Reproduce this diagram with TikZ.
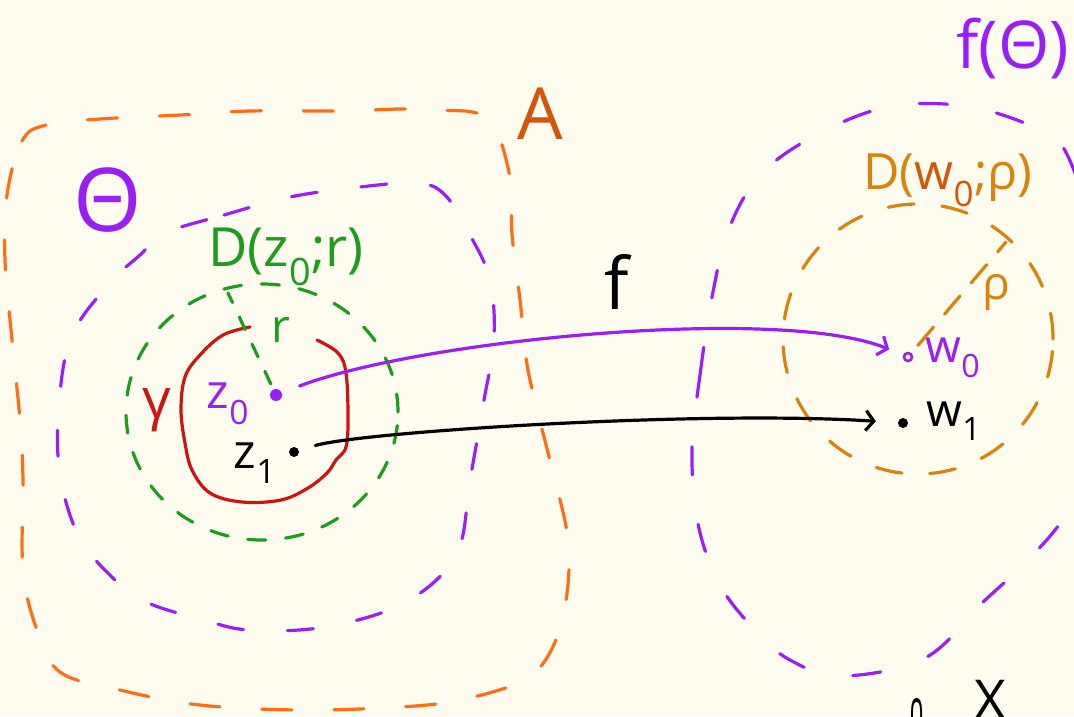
\documentclass[tikz,border=0pt]{standalone}
\usepackage{fontspec}
\setmainfont{Open Sans}
\newfontfamily\symfont{DejaVu Sans}
\usepackage{xcolor}
\usepackage{graphicx}
\usetikzlibrary{arrows.meta}
\definecolor{inkCream}{HTML}{FEFCEE}
\definecolor{inkOrange}{HTML}{FF6E14}
\definecolor{inkRust}{HTML}{D4560A}
\definecolor{inkPurple}{HTML}{9A1EF5}
\definecolor{inkGreen}{HTML}{1E9C1E}
\definecolor{inkRed}{HTML}{CC1414}
\definecolor{inkAmber}{HTML}{D9820C}
\newcommand{\hand}[1]{\fontsize{#1}{#1}\selectfont}
\newcommand{\low}[1]{\textsubscript{#1}}

\tikzset{
  pen/.style={line width=3.2pt,line cap=round,line join=round},
  lbl/.style={inner sep=0pt,anchor=center},
  dot/.style={circle,fill,inner sep=0pt,minimum size=#1},
  dot/.default=10pt,
  ring/.style={circle,draw,line width=2.6pt,inner sep=0pt,minimum size=8pt},
  barb/.style={-{Straight Barb[length=8pt,width=20pt]}},
}

\begin{document}
\begin{tikzpicture}[x=1pt,y=-1pt]
\useasboundingbox (0,0) rectangle (1074,716);
\fill[inkCream] (0,0) rectangle (1074,716);
\clip (0,0) rectangle (1074,716);

% the set A
\draw[pen,inkOrange,dash pattern=on 30pt off 42pt] plot[smooth cycle,tension=0.6] coordinates {
  (7,195) (22,141) (46,125) (100,119) (180,115) (250,111) (340,111) (400,109)
  (438,110) (488,119) (510,177) (512,234) (520,300) (528,370) (550,461) (568,540)
  (565,607) (548,656) (520,682) (460,700) (400,707) (300,710) (200,705) (120,690)
  (60,672) (37,630) (23,570) (23,480) (20,420) (12,340) (5,260)};
\node[lbl,text=inkRust,font=\hand{72}] (labA) at (540,114) {A};

% the open set Theta
\draw[pen,inkPurple,dash pattern=on 26pt off 44pt] plot[smooth cycle,tension=0.6] coordinates {
  (165,233) (224,215) (290,197) (360,187) (417,183) (445,195) (470,235) (490,280)
  (494,340) (484,400) (470,480) (456,555) (404,603) (325,627) (250,630) (204,620)
  (142,600) (100,565) (77,533) (61,480) (58,420) (70,340) (108,285) (140,255)};
\node[lbl,text=inkPurple,font=\hand{88}] (labTheta) at (108,200) {Θ};

% the disc D(z0;r)
\draw[pen,inkGreen,dash pattern=on 18pt off 20pt] (262,412) ellipse [x radius=136pt,y radius=128pt];
\node[lbl,text=inkGreen,font=\hand{54}] (labDz) at (286,257) {D(z\low{0};r)};

% the curve gamma
\draw[pen,inkRed] plot[smooth,tension=0.6] coordinates {
  (317,340) (338,353) (346,373) (348,417) (346,447) (336,460) (327,473) (308,488)
  (281,500) (242,502) (210,493) (192,470) (185,443) (181,410) (185,377) (200,355)
  (223,335) (250,327)};
\node[lbl,text=inkRed,font=\hand{56}] (labGamma) at (157,410) {γ};

% points in Theta
\node[dot=12pt,inkPurple] (z0) at (276,395) {};
\node[dot] (z1) at (294,452) {};
\node[lbl,text=inkPurple,font=\hand{48}] (labz0) at (228,404) {z\low{0}};
\node[lbl,font=\hand{48}] (labz1) at (255,463) {z\low{1}};

\coordinate (rEnd) at (228,293);
\draw[pen,inkGreen,dash pattern=on 14pt off 16pt,shorten <=6pt] (z0) -- (rEnd);
\node[lbl,text=inkGreen,font=\hand{46}] (labr) at (281,330) {r};

% the image f(Theta)
\draw[pen,inkPurple,dash pattern=on 28pt off 50pt] plot[smooth cycle,tension=0.6] coordinates {
  (692,450) (700,375) (712,297) (730,226) (765,170) (828,129) (893,106) (965,106)
  (1027,124) (1063,147) (1090,230) (1097,350) (1087,450) (1067,512) (1028,560)
  (982,603) (925,658) (842,676) (790,660) (755,630) (720,585) (698,524)};
\node[lbl,text=inkPurple,font=\hand{66}] (labfTheta) at (1013,48) {f(Θ)};

% the disc D(w0;rho)
\draw[pen,inkAmber,dash pattern=on 26pt off 28pt] (918,339) circle [radius=135pt];
\node[lbl,font=\hand{50}] (labDw) at (948,180)
  {\textcolor{inkAmber}{D(}\textcolor{inkRust}{w\low{0}}\textcolor{inkAmber}{;ρ)}};

\node[ring,inkPurple] (w0) at (908,357) {};
\node[dot] (w1) at (903,423) {};
\node[lbl,text=inkPurple,font=\hand{46}] (labw0) at (953,358) {w\low{0}};
\node[lbl,font=\hand{46}] (labw1) at (954,421) {w\low{1}};

\coordinate (rhoEnd) at (1006,242);
\draw[pen,inkAmber,dash pattern=on 24pt off 17pt,shorten <=10pt] (w0) -- (rhoEnd);
\node[lbl,text=inkAmber,font=\hand{46}] (labrho) at (996,292) {ρ};

% the map f
\draw[pen,inkPurple,barb,shorten <=19pt,shorten >=15pt] (z0) .. controls (420,340) and (780,305) .. (w0);
\draw[pen,barb,shorten <=17pt,shorten >=22pt] (z1) .. controls (360,432) and (700,410) .. (w1);
\node[lbl,font=\hand{72}] (labf) at (617,282) {f};

\node[inner sep=0pt,anchor=north,font=\hand{52}\symfont] (labCap) at (917,698) {\scalebox{0.45}[1]{∩}};
\node[inner sep=0pt,anchor=north,font=\hand{55}] (labX) at (990,680) {X};
\end{tikzpicture}
\end{document}
